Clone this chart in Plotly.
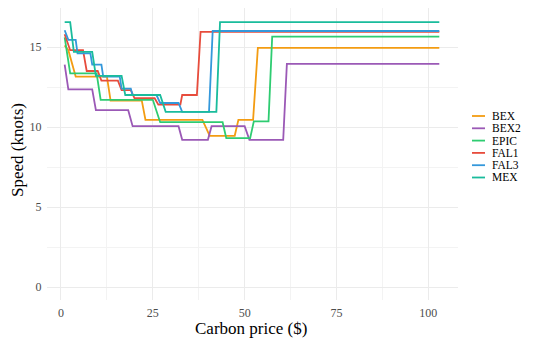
import plotly.graph_objects as go

# ---- data (carbon price -> speed, step vertices) ----
BEX_x = [1, 2, 4, 12.5, 13.5, 22, 23, 38.5, 40.5, 47.3, 48.3, 52.3, 53.6, 103]
BEX_y = [15.1, 14.8, 13.15, 13.15, 11.65, 11.65, 10.45, 10.45, 9.45, 9.45, 10.45, 10.45, 14.95, 14.95]

BEX2_x = [1, 2, 8.5, 9.5, 18.3, 19.5, 32, 33, 40, 41, 50, 51.3, 60.5, 61.5, 103]
BEX2_y = [13.9, 12.35, 12.35, 11.05, 11.05, 10.05, 10.05, 9.2, 9.2, 10.05, 10.05, 9.2, 9.2, 13.95, 13.95]

EPIC_x = [1, 2.5, 9.7, 10.8, 25, 27, 44, 45, 51.5, 52.5, 56.5, 57.5, 103]
EPIC_y = [15.6, 13.35, 13.35, 11.7, 11.7, 10.3, 10.3, 9.3, 9.3, 10.35, 10.35, 15.65, 15.65]

FAL1_x = [1, 2.5, 6, 7, 10, 11, 15.5, 16.5, 19, 20, 25.5, 26.5, 32.5, 33, 37, 38, 103]
FAL1_y = [15.8, 14.8, 14.8, 13.5, 13.5, 12.9, 12.9, 12.3, 12.3, 11.8, 11.8, 11.4, 11.4, 12.0, 12.0, 15.95, 15.95]

FAL3_x = [1, 2, 4, 4.5, 8, 8.5, 11, 11.5, 16, 16.5, 19, 19.5, 26, 27, 32, 33, 40.3, 41.3, 103]
FAL3_y = [16.05, 15.45, 15.45, 14.6, 14.6, 13.9, 13.9, 13.15, 13.15, 12.4, 12.4, 12.0, 12.0, 11.5, 11.5, 10.95, 10.95, 16.0, 16.0]

MEX_x = [1, 2.5, 3.5, 8.5, 9.5, 16.5, 17.5, 27, 28.5, 42.3, 43.3, 103]
MEX_y = [16.55, 16.55, 14.7, 14.7, 13.2, 13.2, 12.0, 12.0, 10.95, 10.95, 16.55, 16.55]

series_names = ["BEX", "BEX2", "EPIC", "FAL1", "FAL3", "MEX"]
series_x = [BEX_x, BEX2_x, EPIC_x, FAL1_x, FAL3_x, MEX_x]
series_y = [BEX_y, BEX2_y, EPIC_y, FAL1_y, FAL3_y, MEX_y]
colors = ["#F39C12", "#9B59B6", "#2ECC71", "#E74C3C", "#3498DB", "#1ABC9C"]

x_ticks = [0, 25, 50, 75, 100]
y_ticks = [0, 5, 10, 15]

FONT = "Liberation Serif, Times New Roman, serif"

fig = go.Figure()
for name, xs, ys, c in zip(series_names, series_x, series_y, colors):
    fig.add_trace(go.Scatter(x=xs, y=ys, mode="lines", name=name,
                             line=dict(color=c, width=1.8), showlegend=False))

# The page body has an 8px margin, so the figure is drawn offset by 8px.
OFF = 8
W, H = 534, 338
L, R, T, B = 39, 84, 0, 46
pw, ph = W - L - R, H - T - B


def px(xw):
    """window x (px) -> paper x"""
    return (xw - OFF - L) / pw


def py(yw):
    """window y (px) -> paper y"""
    return (H - B - (yw - OFF)) / ph


shapes = []
annotations = []
leg_y0 = 116
leg_dy = 12.3
for i, (name, c) in enumerate(zip(series_names, colors)):
    yw = leg_y0 + i * leg_dy
    shapes.append(dict(type="line", xref="paper", yref="paper",
                       x0=px(472), x1=px(485), y0=py(yw), y1=py(yw),
                       line=dict(color=c, width=1.8)))
    annotations.append(dict(text=name, xref="paper", yref="paper",
                            x=px(490), y=py(yw), xanchor="left", yanchor="middle",
                            showarrow=False, font=dict(family=FONT, size=11.5, color="#000000")))

# axis titles
annotations.append(dict(text="Carbon price ($)", xref="paper", yref="paper",
                        x=px(251), y=py(328), xanchor="center", yanchor="middle",
                        showarrow=False, font=dict(family=FONT, size=17, color="#000000")))
annotations.append(dict(text="Speed (knots)", xref="paper", yref="paper",
                        x=px(18), y=py(150), xanchor="center", yanchor="middle", textangle=-90,
                        showarrow=False, font=dict(family=FONT, size=17, color="#000000")))

fig.update_layout(
    width=W, height=H,
    margin=dict(l=L, r=R, t=T, b=B),
    paper_bgcolor="white", plot_bgcolor="white",
    font=dict(family=FONT, color="#4D4D4D"),
    shapes=shapes, annotations=annotations,
    showlegend=False,
)
fig.update_xaxes(
    range=[-3.81, 108.09], tickvals=x_ticks, ticktext=[str(v) for v in x_ticks],
    showgrid=True, gridcolor="#EBEBEB", gridwidth=1, zeroline=False, showline=False,
    ticks="outside", ticklen=2, tickcolor="rgba(0,0,0,0)",
    tickfont=dict(family=FONT, size=12, color="#4D4D4D"),
    minor=dict(dtick=12.5, tick0=0, showgrid=True, gridcolor="#F3F3F3", gridwidth=0.6),
    automargin=False,
)
fig.update_yaxes(
    range=[-0.8125, 17.4375], tickvals=y_ticks, ticktext=[str(v) for v in y_ticks],
    showgrid=True, gridcolor="#EBEBEB", gridwidth=1, zeroline=False, showline=False,
    ticks="outside", ticklen=2, tickcolor="rgba(0,0,0,0)",
    tickfont=dict(family=FONT, size=12, color="#4D4D4D"),
    minor=dict(dtick=2.5, tick0=0, showgrid=True, gridcolor="#F3F3F3", gridwidth=0.6),
    automargin=False,
)

fig.write_html("out.html")
